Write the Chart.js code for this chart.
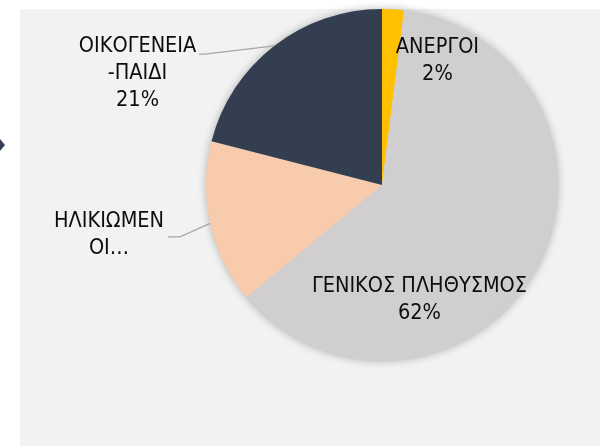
<!DOCTYPE html>
<html>
<head>
<meta charset="utf-8">
<script src="https://cdn.jsdelivr.net/npm/chart.js@4.4.1/dist/chart.umd.min.js"></script>
<style>
  body { margin: 0; background: #fff; }
  canvas { display: block; }
</style>
</head>
<body>
<canvas id="pie" width="600" height="448"></canvas>
<script>
// categories and values (percent of total), clockwise from 12 o'clock
const categories = ["ΑΝΕΡΓΟΙ", "ΓΕΝΙΚΟΣ ΠΛΗΘΥΣΜΟΣ", "ΗΛΙΚΙΩΜΕΝΟΙ", "ΟΙΚΟΓΕΝΕΙΑ-ΠΑΙΔΙ"];
const values = [2, 62, 15, 21];
// how each label is broken into lines in the picture (Excel wrapped/truncated them)
const labelLines = [
  ["ΑΝΕΡΓΟΙ"],
  ["ΓΕΝΙΚΟΣ ΠΛΗΘΥΣΜΟΣ"],
  ["ΗΛΙΚΙΩΜΕΝ", "ΟΙ…"],
  ["ΟΙΚΟΓΕΝΕΙΑ", "-ΠΑΙΔΙ"]
];
// the truncated label lost its percentage
const showPercent = [true, true, false, true];
const colors = ["#FFC000", "#D0CECE", "#F8CBAD", "#333F50"];

// label centre, as a fraction of the radius from the pie centre
const labelAt = [[0.315, -0.705], [0.213, 0.654], [-1.551, 0.285], [-1.389, -0.636]];
// leader line start and elbow (fractions of radius), null = no leader
const leaderAt = [null, null, [[-1.216, 0.295], [-1.148, 0.295]], [[-1.040, -0.744], [-1.006, -0.744]]];

const font = "21.5px 'DejaVu Sans Condensed', 'DejaVu Sans', sans-serif";

const panel = {
  id: 'panel',
  beforeDraw(chart) {
    const c = chart.ctx;
    c.save();
    c.fillStyle = '#F2F2F2';
    c.fillRect(20, 9, 580, 437);
    // little marker on the left edge of the slide
    c.fillStyle = '#333F50';
    c.beginPath();
    c.moveTo(0, 139); c.lineTo(5, 145); c.lineTo(0, 151);
    c.closePath(); c.fill();
    c.restore();
  },
  beforeDatasetsDraw(chart) {
    const a = chart.getDatasetMeta(0).data[0];
    const c = chart.ctx;
    c.save();
    c.shadowColor = 'rgba(0,0,0,0.28)';
    c.shadowBlur = 9;
    c.fillStyle = '#D0CECE';
    c.beginPath();
    c.arc(a.x, a.y, a.outerRadius, 0, Math.PI * 2);
    c.fill();
    c.restore();
  },
  afterDatasetsDraw(chart) {
    const meta = chart.getDatasetMeta(0);
    const total = values.reduce((s, v) => s + v, 0);
    const c = chart.ctx;
    c.save();
    c.font = font;
    c.fillStyle = '#0d0d0d';
    c.textAlign = 'center';
    c.textBaseline = 'middle';
    meta.data.forEach((arc, i) => {
      const r = arc.outerRadius;
      const cx = arc.x + labelAt[i][0] * r;
      const cy = arc.y + labelAt[i][1] * r;
      const lines = labelLines[i].slice();
      if (showPercent[i]) lines.push(Math.round(values[i] / total * 100) + '%');
      const lh = 27;
      const y0 = cy - (lines.length - 1) * lh / 2;
      lines.forEach((t, k) => c.fillText(t, cx, y0 + k * lh));
      if (leaderAt[i]) {
        const mid = (arc.startAngle + arc.endAngle) / 2;
        c.strokeStyle = '#A6A6A6';
        c.lineWidth = 1.2;
        c.beginPath();
        c.moveTo(arc.x + leaderAt[i][0][0] * r, arc.y + leaderAt[i][0][1] * r);
        c.lineTo(arc.x + leaderAt[i][1][0] * r, arc.y + leaderAt[i][1][1] * r);
        c.lineTo(arc.x + Math.cos(mid) * r, arc.y + Math.sin(mid) * r);
        c.stroke();
      }
    });
    c.restore();
  }
};

new Chart(document.getElementById('pie'), {
  type: 'pie',
  data: {
    labels: categories,
    datasets: [{
      data: values,
      backgroundColor: colors,
      borderWidth: 0
    }]
  },
  options: {
    responsive: false,
    animation: false,
    layout: { padding: { left: 206, right: 42, top: 9, bottom: 87 } },
    plugins: {
      legend: { display: false },
      tooltip: { enabled: false }
    }
  },
  plugins: [panel]
});
</script>
</body>
</html>
